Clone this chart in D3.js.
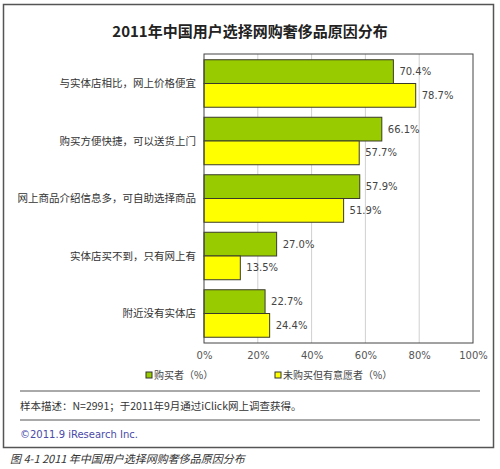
<!DOCTYPE html>
<html>
<head>
<meta charset="utf-8">
<script src="https://cdn.jsdelivr.net/npm/d3@7"></script>
<style>
  body { margin: 0; background: #fff; }
  svg { display: block; font-family: "Noto Sans CJK SC", "DejaVu Sans", sans-serif; }
</style>
</head>
<body>
<svg width="500" height="469"></svg>
<script>
// chart data
const categories = [
    "与实体店相比，网上价格便宜",
    "购买方便快捷，可以送货上门",
    "网上商品介绍信息多，可自助选择商品",
    "实体店买不到，只有网上有",
    "附近没有实体店"
]
const buyers = [70.4, 66.1, 57.9, 27.0, 22.7]
const intenders = [78.7, 57.7, 51.9, 13.5, 24.4]
const tickValues = [0, 20, 40, 60, 80, 100]
const seriesNames = ["购买者（%）", "未购买但有意愿者（%）"]

const svg = d3.select("svg")

// outer frame
svg.append("rect")
    .attr("x", 3.5).attr("y", 4.5)
    .attr("width", 490).attr("height", 443)
    .attr("fill", "none")
    .attr("stroke", "#555")
    .attr("stroke-width", 1.5)

svg.append("text")
    .attr("x", 250).attr("y", 37)
    .attr("text-anchor", "middle")
    .attr("font-size", 15)
    .attr("font-weight", "bold")
    .attr("fill", "#222")
    .text("2011年中国用户选择网购奢侈品原因分布")

// scales
const scaleX = d3.scaleLinear()
    .domain([0, 100])
    .range([204, 473])

const scaleY = d3.scaleBand()
    .domain(categories)
    .range([54, 343])
    .paddingInner(0.174)
    .paddingOuter(0.1)

const scaleSeries = d3.scaleBand()
    .domain(["buy", "intend"])
    .range([0, scaleY.bandwidth()])

// gridlines
svg.append("g")
    .selectAll("line")
    .data(tickValues.slice(1, -1))
    .enter()
    .append("line")
    .attr("x1", d => scaleX(d)).attr("x2", d => scaleX(d))
    .attr("y1", 54).attr("y2", 343)
    .attr("stroke", "#d0d0d0")

// x axis labels
const axisX = d3.axisBottom(scaleX)
    .tickValues(tickValues)
    .tickFormat(d => d + "%")
    .tickSize(0)
    .tickPadding(9)
svg.append("g")
    .attr("transform", "translate(0, 343)")
    .call(axisX)
    .call(g => g.select(".domain").remove())
    .selectAll("text")
    .attr("font-size", 10)
    .attr("fill", "#555")
    .attr("font-family", "DejaVu Sans, sans-serif")

// bars
const groups = svg.selectAll("g.cat")
    .data(categories.map((c, i) => ({ cat: c, buy: buyers[i], intend: intenders[i] })))
    .enter()
    .append("g")
    .attr("class", "cat")
    .attr("transform", d => `translate(0, ${scaleY(d.cat)})`)

const colors = { buy: "#99cc00", intend: "#ffff00" }

;["buy", "intend"].forEach(key => {
    groups.append("rect")
        .attr("x", scaleX(0))
        .attr("y", scaleSeries(key))
        .attr("width", d => scaleX(d[key]) - scaleX(0))
        .attr("height", scaleSeries.bandwidth())
        .attr("fill", colors[key])
        .attr("stroke", "#3a3a2a")
        .attr("stroke-width", 1)

    groups.append("text")
        .attr("x", d => scaleX(d[key]) + 6)
        .attr("y", scaleSeries(key) + scaleSeries.bandwidth() / 2)
        .attr("dy", "0.35em")
        .attr("font-size", 10)
        .attr("fill", "#444")
        .attr("font-family", "DejaVu Sans, sans-serif")
        .text(d => d[key].toFixed(1) + "%")
})

// category labels
groups.append("text")
    .attr("x", 196)
    .attr("y", scaleY.bandwidth() / 2)
    .attr("dy", "0.35em")
    .attr("text-anchor", "end")
    .attr("font-size", 10.5)
    .attr("fill", "#333")
    .text(d => d.cat)

// plot border
svg.append("rect")
    .attr("x", scaleX(0)).attr("y", 54)
    .attr("width", scaleX(100) - scaleX(0))
    .attr("height", 289)
    .attr("fill", "none")
    .attr("stroke", "#444")

// legend
const legendX = [146, 275]
seriesNames.forEach((name, i) => {
    svg.append("rect")
        .attr("x", legendX[i]).attr("y", 372)
        .attr("width", 6).attr("height", 6)
        .attr("fill", i === 0 ? colors.buy : colors.intend)
        .attr("stroke", "#333")
    svg.append("text")
        .attr("x", legendX[i] + 8).attr("y", 375)
        .attr("dy", "0.35em")
        .attr("font-size", 10)
        .attr("fill", "#444")
        .text(name)
})

// notes
svg.append("line")
    .attr("x1", 20).attr("x2", 480)
    .attr("y1", 391).attr("y2", 391)
    .attr("stroke", "#555")
svg.append("text")
    .attr("x", 20).attr("y", 406)
    .attr("dy", "0.35em")
    .attr("font-size", 10.5)
    .attr("fill", "#333")
    .text("样本描述：N=2991；于2011年9月通过iClick网上调查获得。")
svg.append("line")
    .attr("x1", 20).attr("x2", 480)
    .attr("y1", 420).attr("y2", 420)
    .attr("stroke", "#555")
svg.append("text")
    .attr("x", 20).attr("y", 434)
    .attr("dy", "0.35em")
    .attr("font-size", 10)
    .attr("fill", "#4a4aa8")
    .attr("font-family", "DejaVu Sans, sans-serif")
    .text("©2011.9 iResearch Inc.")

svg.append("text")
    .attr("x", 10).attr("y", 459)
    .attr("dy", "0.35em")
    .attr("font-size", 11)
    .attr("font-style", "italic")
    .attr("fill", "#333")
    .text("图 4-1 2011 年中国用户选择网购奢侈品原因分布")
</script>
</body>
</html>
